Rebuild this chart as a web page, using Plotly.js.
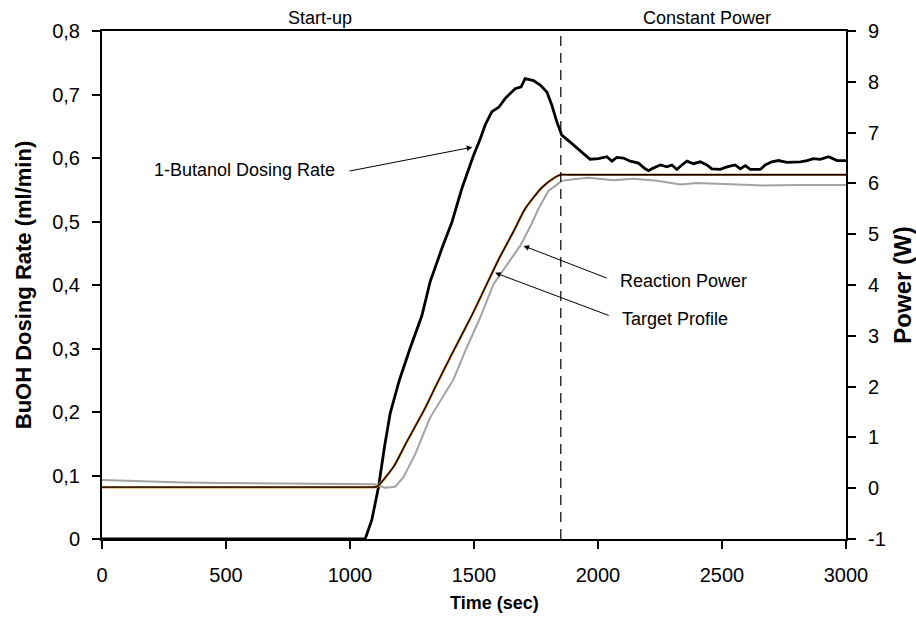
<!DOCTYPE html>
<html><head><meta charset="utf-8">
<script src="https://cdn.plot.ly/plotly-3.0.1.min.js"></script>
<style>html,body{margin:0;padding:0;background:#fff}#chart{width:916px;height:625px}</style>
</head><body><div id="chart"></div>
<script>
// 1-Butanol dosing rate (ml/min), left axis
const dosingTime = [0, 500, 1000, 1061, 1088, 1115, 1139, 1162, 1199, 1242, 1290, 1323, 1370, 1411, 1451, 1498, 1525, 1545, 1572, 1600, 1626, 1666, 1690, 1706, 1740, 1767, 1794, 1814, 1834, 1854, 1888, 1928, 1968, 2002, 2036, 2056, 2076, 2103, 2130, 2163, 2190, 2204, 2217, 2251, 2278, 2298, 2318, 2338, 2359, 2385, 2412, 2439, 2459, 2493, 2520, 2553, 2574, 2594, 2614, 2654, 2674, 2701, 2728, 2762, 2789, 2816, 2843, 2869, 2896, 2930, 2964, 3000];
const dosingRate = [0, 0, 0, 0, 0.030, 0.082, 0.145, 0.198, 0.250, 0.300, 0.352, 0.405, 0.457, 0.499, 0.552, 0.604, 0.630, 0.652, 0.673, 0.680, 0.694, 0.709, 0.712, 0.725, 0.722, 0.715, 0.704, 0.683, 0.657, 0.636, 0.625, 0.612, 0.598, 0.599, 0.602, 0.595, 0.601, 0.600, 0.595, 0.592, 0.583, 0.580, 0.583, 0.589, 0.586, 0.589, 0.582, 0.589, 0.595, 0.591, 0.594, 0.589, 0.583, 0.582, 0.586, 0.589, 0.583, 0.588, 0.582, 0.582, 0.589, 0.594, 0.596, 0.593, 0.593, 0.594, 0.596, 0.599, 0.598, 0.602, 0.596, 0.596];

// Reaction power (W), right axis
const powerTime = [0, 60, 190, 330, 490, 700, 900, 1100, 1141, 1182, 1215, 1263, 1323, 1384, 1417, 1471, 1525, 1578, 1686, 1727, 1760, 1800, 1854, 1901, 1962, 2063, 2144, 2238, 2332, 2399, 2533, 2668, 2802, 2937, 3000];
const reactionPower = [0.16, 0.15, 0.12, 0.11, 0.10, 0.09, 0.09, 0.08, 0.01, 0.03, 0.21, 0.67, 1.39, 1.88, 2.14, 2.77, 3.36, 4.01, 4.77, 5.15, 5.50, 5.85, 6.05, 6.08, 6.11, 6.06, 6.09, 6.05, 5.98, 6.01, 5.99, 5.96, 5.97, 5.96, 5.97];

// Target profile (W), right axis
const targetTime = [0, 500, 1000, 1080, 1108, 1178, 1222, 1300, 1350, 1417, 1491, 1545, 1599, 1659, 1706, 1774, 1827, 1850, 1880, 2000, 2500, 3000];
const targetPower = [0.02, 0.02, 0.02, 0.02, 0.03, 0.44, 0.85, 1.55, 2.05, 2.70, 3.40, 3.95, 4.50, 5.05, 5.50, 5.92, 6.12, 6.17, 6.17, 6.17, 6.17, 6.17];

const phaseBoundary = 1850;
const phaseLabels = ['Start-up', 'Constant Power'];
const phaseLabelTimes = [879, 2439];
const rightTickVals = [-1, 0, 1, 2, 3, 4, 5, 6, 7, 8, 9];
const rightTickText = ['-1', '0', '1', '2', '3', '4', '5', '6', '7', '8', '9'];

const FONT = 'Liberation Sans, Arial, sans-serif';

const traces = [
  {x: powerTime, y: reactionPower, yaxis: 'y2', type: 'scatter', mode: 'lines',
   line: {color: '#a3a3a3', width: 2}, hoverinfo: 'skip'},
  {x: targetTime, y: targetPower, yaxis: 'y2', type: 'scatter', mode: 'lines',
   line: {color: '#d98a3a', width: 2.6, shape: 'spline', smoothing: 0.6}, hoverinfo: 'skip'},
  {x: targetTime, y: targetPower, yaxis: 'y2', type: 'scatter', mode: 'lines',
   line: {color: '#000000', width: 1.3, shape: 'spline', smoothing: 0.6}, hoverinfo: 'skip'},
  {x: dosingTime, y: dosingRate, yaxis: 'y', type: 'scatter', mode: 'lines',
   line: {color: '#000000', width: 2.8}, hoverinfo: 'skip'}
];

const axisCommon = {
  showline: true, linecolor: '#000', linewidth: 2,
  ticks: 'outside', ticklen: 8, tickwidth: 2, tickcolor: '#000',
  showgrid: false, zeroline: false,
  tickfont: {family: FONT, size: 20, color: '#000'}
};

const annotations = [];
phaseLabels.forEach((lab, i) => annotations.push({
  x: phaseLabelTimes[i], xref: 'x', y: 1, yref: 'paper', yanchor: 'bottom', yshift: 1,
  text: lab, showarrow: false, font: {family: FONT, size: 18, color: '#000'}
}));
annotations.push(
  {x: 0.528, xref: 'paper', y: 0, yref: 'paper', yanchor: 'middle', yshift: -64,
   text: 'Time (sec)', showarrow: false, font: {family: FONT, size: 18, weight: 'bold', color: '#000'}},
  {x: 575, y: 0.581, xref: 'x', yref: 'y', text: '1-Butanol Dosing Rate', showarrow: false,
   font: {family: FONT, size: 18, color: '#000'}},
  {x: 1493, y: 0.617, xref: 'x', yref: 'y', ax: 992, ay: 0.579, axref: 'x', ayref: 'y',
   text: '', showarrow: true, arrowhead: 2, arrowsize: 1.1, arrowwidth: 1, arrowcolor: '#000'},
  {x: 2345, y: 4.08, xref: 'x', yref: 'y2', text: 'Reaction Power', showarrow: false,
   font: {family: FONT, size: 18, color: '#000'}},
  {x: 1700, y: 4.77, xref: 'x', yref: 'y2', ax: 2041, ay: 4.125, axref: 'x', ayref: 'y2',
   text: '', showarrow: true, arrowhead: 2, arrowsize: 1.1, arrowwidth: 1, arrowcolor: '#000'},
  {x: 2310, y: 3.33, xref: 'x', yref: 'y2', text: 'Target Profile', showarrow: false,
   font: {family: FONT, size: 18, color: '#000'}},
  {x: 1585, y: 4.24, xref: 'x', yref: 'y2', ax: 2049, ay: 3.39, axref: 'x', ayref: 'y2',
   text: '', showarrow: true, arrowhead: 2, arrowsize: 1.1, arrowwidth: 1, arrowcolor: '#000'}
);

const layout = {
  width: 916, height: 625,
  margin: {l: 102, r: 70, t: 31, b: 86, pad: 0},
  paper_bgcolor: '#fff', plot_bgcolor: '#fff',
  separators: ', ',
  showlegend: false,
  font: {family: FONT, color: '#000'},
  xaxis: Object.assign({}, axisCommon, {
    range: [0, 3000], dtick: 500, tick0: 0, mirror: true, ticklabelstandoff: 9
  }),
  yaxis: Object.assign({}, axisCommon, {
    range: [0, 0.8], dtick: 0.1, tick0: 0, ticklabelstandoff: 8,
    title: {text: 'BuOH Dosing Rate (ml/min)', font: {family: FONT, size: 22, weight: 'bold', color: '#000'}, standoff: 14}
  }),
  yaxis2: Object.assign({}, axisCommon, {
    range: [-1, 9], overlaying: 'y', side: 'right', ticklabelstandoff: 8,
    tickmode: 'array', tickvals: rightTickVals, ticktext: rightTickText,
    title: {text: 'Power (W)', font: {family: FONT, size: 24, weight: 'bold', color: '#000'}, standoff: 14}
  }),
  shapes: [{type: 'line', xref: 'x', yref: 'paper', x0: phaseBoundary, x1: phaseBoundary, y0: 0, y1: 1,
            line: {color: '#000', width: 1.2, dash: '10px,7px'}}],
  annotations: annotations
};

Plotly.newPlot('chart', traces, layout, {displayModeBar: false, staticPlot: true});
</script>
</body></html>
